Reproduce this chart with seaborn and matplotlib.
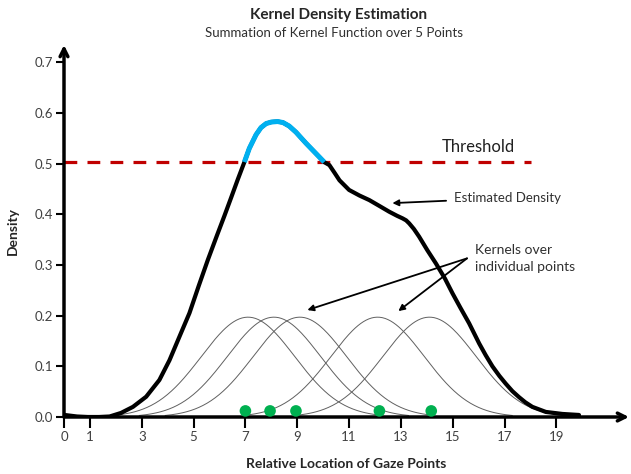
import numpy as np
import pandas as pd
import matplotlib
matplotlib.use("Agg")
import matplotlib.pyplot as plt
import seaborn as sns

# Estimated density curve
density_x = [0.02, 0.5, 0.92, 1.35, 1.76, 2.2, 2.66, 3.17, 3.68, 4.07, 4.45, 4.84, 5.2, 5.55, 5.9,
             6.19, 6.45, 6.7, 6.96, 7.15, 7.41, 7.6, 7.8, 8.0, 8.24, 8.45, 8.69, 8.95, 9.34, 9.7, 10.04,
             10.24, 10.45, 10.63, 11.0, 11.4, 11.78, 12.15, 12.55, 12.85, 13.06, 13.2, 13.32, 13.5,
             13.7, 14.02, 14.35, 14.7, 14.99, 15.3, 15.63, 16.02, 16.27, 16.53, 16.8, 17.04, 17.3,
             17.56, 17.8, 18.07, 18.59, 19.23, 19.87]
density_y = [0.004, 0.001, 0.0, 0.0, 0.001, 0.008, 0.02, 0.04, 0.073, 0.112, 0.158, 0.205, 0.259, 0.31, 0.358,
             0.397, 0.433, 0.468, 0.503, 0.53, 0.557, 0.571, 0.579, 0.582, 0.583, 0.581, 0.574, 0.562, 0.54, 0.521, 0.503,
             0.497, 0.481, 0.467, 0.448, 0.437, 0.428, 0.417, 0.405, 0.397, 0.392, 0.388, 0.382, 0.371,
             0.356, 0.329, 0.303, 0.273, 0.244, 0.215, 0.185, 0.145, 0.122, 0.100, 0.081, 0.066, 0.051,
             0.039, 0.029, 0.020, 0.01, 0.006, 0.004]

# Gaze points and the kernels drawn over them
point_x = [7.0, 7.95, 8.95, 12.17, 14.17]
point_y = [0.012, 0.012, 0.012, 0.012, 0.012]
kernel_centers = [7.1, 8.1, 9.1, 12.1, 14.1]
kernel_peak = 0.197
kernel_sigma = 1.8
threshold = 0.503

x_ticks = [0, 1, 3, 5, 7, 9, 11, 13, 15, 17, 19]
y_ticks = [0.0, 0.1, 0.2, 0.3, 0.4, 0.5, 0.6, 0.7]

sns.set_style("white")
plt.rcParams['font.family'] = ['Lato', 'DejaVu Sans']

fig = plt.figure(figsize=(6.31, 4.74), dpi=100)
ax = fig.add_axes([64 / 631, 57 / 474, 565 / 631, 372 / 474])
ax.set_xlim(0, 21.8)
ax.set_ylim(0, 0.734)

# kernels
for c in kernel_centers:
    kx = np.linspace(c - 5.2, c + 5.2, 200)
    ky = kernel_peak * np.exp(-(kx - c) ** 2 / (2 * kernel_sigma ** 2))
    sns.lineplot(x=kx, y=ky, color='#606060', linewidth=0.7, ax=ax)

# threshold
ax.plot([0, 18.02], [threshold, threshold], color='#C00000', linewidth=2.3,
        linestyle=(0, (4, 3.2)))

# density curve, black with the part above threshold in blue
df = pd.DataFrame({'x': density_x, 'y': density_y})
sns.lineplot(data=df, x='x', y='y', color='black', linewidth=3.0, ax=ax,
             solid_joinstyle='round', solid_capstyle='round')
above = df[(df['x'] >= 6.96) & (df['x'] <= 10.04)]
sns.lineplot(data=above, x='x', y='y', color='#00B0F0', linewidth=3.6, ax=ax,
             solid_joinstyle='round', solid_capstyle='butt')

# gaze points
sns.scatterplot(x=point_x, y=point_y, color='#00B050', s=70, edgecolor='none', ax=ax, zorder=5)

# axes with arrows
for s in ['top', 'right', 'left', 'bottom']:
    ax.spines[s].set_visible(False)
ax.annotate('', xy=(1.0, 0), xytext=(0, 0), xycoords='axes fraction',
            arrowprops=dict(arrowstyle='->', lw=2.5, color='black', mutation_scale=14,
                            shrinkA=0, shrinkB=0))
ax.annotate('', xy=(0, 1.0), xytext=(0, 0), xycoords='axes fraction',
            arrowprops=dict(arrowstyle='->', lw=2.5, color='black', mutation_scale=14,
                            shrinkA=0, shrinkB=0))

ax.set_xticks(x_ticks)
ax.set_yticks(y_ticks)
ax.set_yticklabels([f'{v:.1f}' for v in y_ticks])
ax.tick_params(axis='x', direction='out', length=8, width=1.5, color='black',
               labelsize=9.5, labelcolor='#404040', bottom=True, pad=2)
ax.tick_params(axis='y', direction='out', length=6, width=1.5, color='black',
               labelsize=9.5, labelcolor='#404040', left=True, pad=2)
ax.set_xlabel('Relative Location of Gaze Points', fontsize=10, fontweight='bold', labelpad=11)
ax.set_ylabel('Density', fontsize=10, fontweight='bold', labelpad=11)

# annotations
ax.text(15.98, 0.532, 'Threshold', fontsize=12, ha='center', va='center', color='#202020')
ax.annotate('Estimated Density', xy=(12.67, 0.422), xytext=(15.03, 0.432),
            fontsize=9.5, va='center', color='#303030',
            arrowprops=dict(arrowstyle='-|>', lw=1.3, color='black', mutation_scale=9,
                            shrinkA=3, shrinkB=0))
ax.text(15.85, 0.313, 'Kernels over\nindividual points', fontsize=10, va='center',
        color='#303030', linespacing=1.45)
for tip in [(9.39, 0.211), (12.9, 0.209)]:
    ax.annotate('', xy=tip, xytext=(15.55, 0.313),
                arrowprops=dict(arrowstyle='-|>', lw=1.3, color='black', mutation_scale=9,
                                shrinkA=0, shrinkB=0))

fig.text(339 / 631, 1 - 15 / 474, 'Kernel Density Estimation', fontsize=11, fontweight='bold',
         ha='center', va='center')
fig.text(334 / 631, 1 - 33 / 474, 'Summation of Kernel Function over 5 Points', fontsize=9.5,
         ha='center', va='center', color='#303030')

fig.savefig('out.png', dpi=100)
